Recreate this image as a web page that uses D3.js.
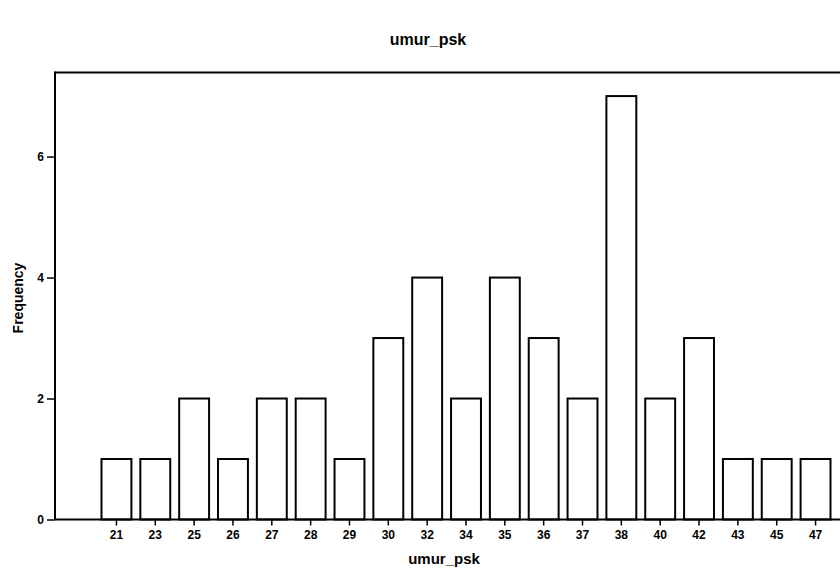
<!DOCTYPE html>
<html>
<head>
<meta charset="utf-8">
<script src="https://cdn.jsdelivr.net/npm/d3@7"></script>
<style>
  html, body { margin: 0; padding: 0; background: #fff; }
  svg { display: block; }
  text { font-family: "Liberation Sans", Arial, sans-serif; font-weight: bold; fill: #000; }
</style>
</head>
<body>
<svg id="chart" width="840" height="569"></svg>
<script>
const categories = ["21","23","25","26","27","28","29","30","32","34","35","36","37","38","40","42","43","45","47"];
const frequency  = [1, 1, 2, 1, 2, 2, 1, 3, 4, 2, 4, 3, 2, 7, 2, 3, 1, 1, 1];
const yTicks = [0, 2, 4, 6];
const chartTitle = "umur_psk";
const xTitle = "umur_psk";
const yTitle = "Frequency";

(function () {
const svg = d3.select("#chart");
const mLeft = 55, mTop = 72.5, mBottom = 519.5, mRight = 840;

const x = d3.scaleBand()
  .domain(categories)
  .range([101.5, 830.5])
  .paddingInner(0.23)
  .paddingOuter(0);

const y = d3.scaleLinear()
  .domain([0, 7.39])
  .range([mBottom, mTop]);

// title
svg.append("text")
  .attr("x", 428).attr("y", 45)
  .attr("text-anchor", "middle")
  .style("font-size", "16px")
  .text(chartTitle);

// top frame line
svg.append("line")
  .attr("x1", mLeft).attr("x2", mRight)
  .attr("y1", mTop).attr("y2", mTop)
  .attr("stroke", "#000").attr("stroke-width", 2);

// bars
svg.append("g").selectAll("rect")
  .data(categories.map((c, i) => ({c, v: frequency[i]})))
  .join("rect")
  .attr("x", d => x(d.c))
  .attr("width", x.bandwidth())
  .attr("y", d => y(d.v))
  .attr("height", d => y(0) - y(d.v))
  .attr("fill", "#fff")
  .attr("stroke", "#000")
  .attr("stroke-width", 2);

// y axis
const yAxis = d3.axisLeft(y).tickValues(yTicks).tickSize(8).tickPadding(3).tickFormat(d3.format("d"));
const gy = svg.append("g").attr("transform", `translate(${mLeft},0)`).call(yAxis);
gy.select(".domain").remove();
gy.selectAll(".tick line").attr("stroke", "#000").attr("stroke-width", 1.5);
gy.selectAll(".tick text").style("font-size", "12px").style("font-weight", "bold").attr("fill", "#000");
svg.append("line")
  .attr("x1", mLeft).attr("x2", mLeft)
  .attr("y1", mTop - 1).attr("y2", mBottom)
  .attr("stroke", "#000").attr("stroke-width", 2);

// x axis
const xAxis = d3.axisBottom(x).tickSize(6).tickPadding(5);
const gx = svg.append("g").attr("transform", `translate(0,${mBottom})`).call(xAxis);
gx.select(".domain").remove();
gx.selectAll(".tick line").attr("stroke", "#000").attr("stroke-width", 1.5);
gx.selectAll(".tick text").style("font-size", "12px").style("font-weight", "bold").attr("fill", "#000");
svg.append("line")
  .attr("x1", mLeft).attr("x2", mRight)
  .attr("y1", mBottom).attr("y2", mBottom)
  .attr("stroke", "#000").attr("stroke-width", 2);

// axis titles
svg.append("text")
  .attr("x", 444).attr("y", 564)
  .attr("text-anchor", "middle")
  .style("font-size", "15px")
  .text(xTitle);

svg.append("text")
  .attr("transform", "translate(23,298) rotate(-90)")
  .attr("text-anchor", "middle")
  .style("font-size", "14px")
  .text(yTitle);
})();
</script>
</body>
</html>
